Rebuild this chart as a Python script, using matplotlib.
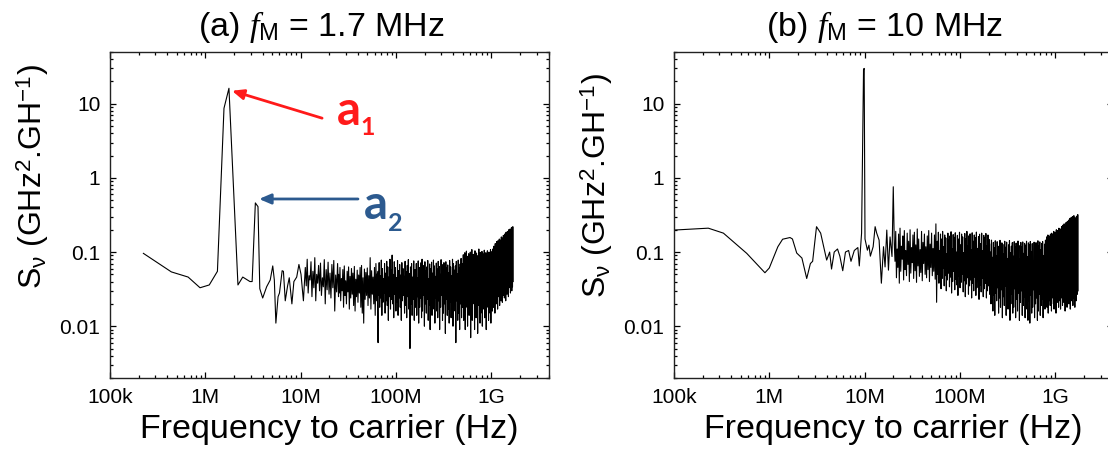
import matplotlib
matplotlib.use("Agg")
import matplotlib.pyplot as plt
from matplotlib.ticker import FixedLocator, FixedFormatter, LogLocator, NullFormatter
import numpy as np

plt.rcParams['font.family'] = ['Liberation Sans', 'DejaVu Sans']
plt.rcParams['mathtext.fontset'] = 'custom'
plt.rcParams['mathtext.rm'] = 'Liberation Sans'
plt.rcParams['mathtext.it'] = 'Liberation Serif:italic'
plt.rcParams['mathtext.bf'] = 'Liberation Sans:bold'

# ---- panel (a): f_M = 1.7 MHz, resolved low-frequency part (Hz, GHz^2/GHz)
fa_low = [2.24e5, 4.4e5, 6.6e5, 8.8e5, 1.1e6, 1.34e6, 1.57e6, 1.77e6, 2.2e6, 2.47e6,
          2.94e6, 3.1e6, 3.35e6, 3.57e6, 3.73e6, 4.0e6, 4.4e6, 4.8e6, 5.1e6, 5.3e6,
          5.5e6, 5.8e6, 6.0e6, 6.4e6, 6.6e6, 6.9e6, 7.3e6, 7.6e6, 8.1e6, 8.5e6,
          9.1e6, 9.6e6, 1.01e7, 1.07e7]
sa_low = [0.096, 0.054, 0.046, 0.033, 0.036, 0.055, 8.7, 16.2, 0.036, 0.046,
          0.040, 0.040, 0.46, 0.41, 0.032, 0.024, 0.034, 0.042, 0.065, 0.042,
          0.011, 0.025, 0.028, 0.056, 0.055, 0.022, 0.035, 0.045, 0.020, 0.040,
          0.046, 0.068, 0.05, 0.022]

# dense noise part: (f start, f end, peaks x1e-3, troughs x1e-3)
a_seg1 = (1.12e7, 2.5e7,
          [62, 80, 48, 74, 55, 84, 50, 66, 71, 45, 79, 58, 73, 52, 68, 77, 49, 70],
          [35, 28, 42, 25, 33, 22, 38, 30, 26, 34, 20, 31, 27, 24, 33, 16, 29, 25])
a_seg2 = (2.5e7, 6.5e7,
          [50, 62, 44, 58, 65, 41, 55, 63, 47, 60, 52, 64, 43, 57, 49, 62, 66, 45, 59, 53,
           61, 48, 84, 56, 46, 62, 70, 51],
          [28, 22, 30, 18, 26, 20, 29, 17, 24, 27, 19, 16, 25, 21, 28, 18, 15, 11, 23, 26,
           19, 24, 17, 27, 20, 14, 22, 6])
a_seg3 = (6.5e7, 1.6e8,
          [55, 72, 48, 78, 60, 44, 70, 52, 75, 63, 46, 80, 58, 91, 50, 74, 62, 45, 77, 56,
           68, 49, 72, 60, 47, 75, 54, 66, 79, 51, 63, 70, 46, 76, 58],
          [26, 18, 24, 14, 21, 28, 15, 22, 19, 12, 25, 17, 23, 20, 13, 27, 16, 21, 14, 24,
           18, 12, 22, 26, 15, 19, 13, 25, 17, 5, 20, 14, 23, 12, 18])
a_seg4 = (1.6e8, 5e8,
          [58, 70, 45, 76, 62, 50, 72, 80, 48, 66, 74, 55, 63, 77, 44, 69, 60, 73, 52, 78,
           65, 47, 71, 59, 75, 64, 50, 79, 68, 56, 72, 46, 74, 61, 67, 53, 77, 63, 48, 80,
           70, 57, 65, 75, 51, 78, 62, 69, 82, 58],
          [22, 14, 25, 11, 18, 24, 13, 16, 26, 10, 20, 15, 23, 12, 19, 9, 25, 14, 17, 21,
           11, 24, 16, 13, 22, 9, 18, 26, 12, 15, 20, 8, 23, 14, 17, 11, 21, 13, 24, 10,
           16, 19, 6, 22, 12, 15, 9, 20, 13, 18])
a_seg5 = (5e8, 1.05e9,
          [70, 92, 60, 98, 76, 103, 64, 88, 95, 58, 100, 80, 108, 67, 93, 84, 104, 62, 97, 75,
           90, 110, 69, 99, 82, 102, 72, 94, 106, 65, 98, 86, 104, 77, 100, 91, 108, 74, 102, 110],
          [24, 12, 27, 9, 18, 22, 10, 26, 14, 16, 7, 23, 12, 20, 28, 9, 17, 13, 25, 8,
           19, 22, 11, 15, 26, 10, 21, 17, 13, 24, 9, 18, 27, 12, 20, 15, 11, 25, 16, 21])
a_seg6 = (1.05e9, 1.7e9,
          [85, 120, 98, 130, 105, 138, 92, 142, 118, 150, 110, 145, 160, 125, 155, 168, 132,
           175, 150, 185, 140, 190, 165, 200, 172, 205, 180, 215, 195, 220],
          [18, 24, 15, 28, 20, 32, 17, 25, 30, 19, 27, 22, 33, 21, 26, 30, 24, 35, 22, 31,
           27, 36, 25, 33, 38, 28, 36, 30, 34, 40])

# ---- panel (b): f_M = 10 MHz
fb_low = [1.0e5, 2.29e5, 3.3e5, 5.8e5, 9.0e5, 1.0e6, 1.23e6, 1.38e6, 1.65e6, 1.75e6,
          1.94e6, 2.2e6, 2.47e6, 2.7e6, 2.85e6, 3.13e6, 3.46e6, 3.8e6, 4.0e6, 4.3e6,
          4.5e6, 4.8e6, 5.2e6, 5.5e6, 5.9e6, 6.3e6, 6.8e6, 7.2e6, 7.8e6, 8.5e6,
          8.8e6, 9.3e6, 9.75e6, 9.9e6, 1.01e7, 1.07e7, 1.11e7, 1.15e7, 1.23e7, 1.29e7,
          1.34e7, 1.42e7, 1.50e7, 1.58e7, 1.64e7, 1.71e7, 1.78e7, 1.85e7, 1.94e7, 2.0e7]
sb_low = [0.198, 0.21, 0.18, 0.096, 0.0526, 0.061, 0.118, 0.149, 0.157, 0.15,
          0.097, 0.083, 0.044, 0.07, 0.075, 0.22, 0.18, 0.105, 0.078, 0.1,
          0.059, 0.1, 0.11, 0.088, 0.056, 0.1, 0.105, 0.075, 0.105, 0.115,
          0.065, 0.18, 29, 30, 0.15, 0.106, 0.124, 0.088, 0.118, 0.22,
          0.18, 0.145, 0.038, 0.118, 0.063, 0.198, 0.057, 0.16, 0.087, 0.76]

b_seg1 = (2.05e7, 5.7e7,
          [130, 190, 110, 175, 210, 120, 165, 195, 105, 180, 140, 200, 115, 170, 185, 125, 205,
           150, 108, 190, 135, 175, 118, 165, 195, 128, 180, 112, 170, 240],
          [75, 45, 62, 38, 55, 80, 42, 58, 48, 68, 40, 52, 72, 44, 56, 39, 65, 47, 53, 41,
           70, 50, 45, 58, 40, 62, 48, 55, 43, 21])
b_seg2 = (5.8e7, 2.05e8,
          [140, 185, 105, 175, 150, 190, 118, 170, 155, 95, 180, 145, 165, 188, 110, 172, 158,
           182, 100, 168, 150, 185, 125, 175, 160, 98, 178, 152, 190, 120, 166, 176, 108, 182,
           140, 170, 156, 186, 112, 162, 174, 130, 180, 104, 168, 155, 178, 122, 170, 148],
          [50, 38, 55, 32, 44, 60, 35, 48, 30, 42, 52, 34, 46, 28, 40, 55, 31, 43, 36, 26,
           47, 33, 39, 50, 29, 41, 25, 37, 45, 27, 35, 42, 24, 38, 30, 46, 26, 33, 40, 23,
           36, 29, 44, 25, 32, 38, 24, 30, 35, 27])
b_seg3 = (2.05e8, 8e8,
          [130, 100, 145, 85, 135, 115, 142, 90, 138, 120, 78, 144, 105, 133, 127, 95, 140,
           116, 136, 82, 125, 143, 98, 120, 134, 88, 138, 117, 132, 104, 141, 123, 80, 135,
           119, 137, 96, 131, 124, 140, 86, 133, 127, 139, 102, 130, 76, 136, 122, 134, 92,
           142, 120, 137, 108, 131, 139, 90, 128, 145],
          [30, 20, 34, 16, 26, 14, 28, 22, 33, 15, 24, 18, 31, 13, 25, 19, 35, 14, 22, 17,
           29, 12, 20, 27, 15, 18, 32, 13, 23, 16, 28, 12, 21, 30, 14, 19, 25, 13, 17, 29,
           12, 22, 11, 26, 15, 18, 31, 13, 20, 24, 12, 16, 27, 14, 19, 23, 13, 28, 17, 21])
b_seg4 = (8e8, 1.74e9,
          [110, 160, 95, 170, 130, 165, 105, 175, 140, 180, 115, 172, 190, 125, 185, 150, 200,
           120, 195, 160, 210, 135, 205, 170, 220, 150, 230, 185, 240, 160, 225, 250, 175, 260,
           200, 270, 180, 285, 230, 295, 200, 300, 250, 310, 220, 290, 240, 305, 260, 320],
          [30, 18, 26, 15, 22, 34, 19, 27, 16, 24, 32, 20, 17, 28, 23, 15, 31, 21, 26, 18,
           35, 22, 17, 29, 24, 19, 33, 21, 27, 16, 30, 23, 18, 34, 25, 20, 28, 17, 31, 22,
           26, 19, 33, 24, 18, 29, 22, 35, 27, 30])

x_ticks = [1e5, 1e6, 1e7, 1e8, 1e9]
x_labels = ['100k', '1M', '10M', '100M', '1G']
y_ticks = [0.01, 0.1, 1, 10]
y_labels = ['0.01', '0.1', '1', '10']


def build_trace(f_low, s_low, segments):
    f = list(f_low)
    s = list(s_low)
    for f0, f1, hi, lo in segments:
        n = len(hi)
        ys = np.empty(2 * n)
        ys[0::2] = np.array(hi) * 1e-3
        ys[1::2] = np.array(lo) * 1e-3
        f.extend(np.geomspace(f0, f1, 2 * n))
        s.extend(ys)
    return np.array(f), np.array(s)


def style_axes(ax, ylabel_y):
    ax.set_xscale('log')
    ax.set_yscale('log')
    ax.set_xlim(1e5, 4e9)
    ax.set_ylim(0.002, 50)
    ax.xaxis.set_major_locator(FixedLocator(x_ticks))
    ax.xaxis.set_major_formatter(FixedFormatter(x_labels))
    ax.yaxis.set_major_locator(FixedLocator(y_ticks))
    ax.yaxis.set_major_formatter(FixedFormatter(y_labels))
    ax.xaxis.set_minor_locator(LogLocator(base=10, subs=np.arange(2, 10), numticks=30))
    ax.yaxis.set_minor_locator(LogLocator(base=10, subs=np.arange(2, 10), numticks=30))
    ax.xaxis.set_minor_formatter(NullFormatter())
    ax.yaxis.set_minor_formatter(NullFormatter())
    ax.tick_params(which='both', direction='in', top=True, right=True, width=0.9,
                   labelsize=15, pad=7)
    ax.tick_params(which='major', length=4.3)
    ax.tick_params(which='minor', length=2.2)
    for sp in ax.spines.values():
        sp.set_linewidth(1.0)
        sp.set_color('#222222')
    ax.set_xlabel('Frequency to carrier (Hz)', fontsize=24.5, labelpad=5)
    ax.set_ylabel(r'S$_{\mathrm{\nu}}$ (GHz$^{2}$.GH$^{-1}$)', fontsize=23)
    ax.yaxis.set_label_coords(-0.135, ylabel_y)


fig = plt.figure(figsize=(11.08, 4.54), dpi=100)
ax1 = fig.add_axes([0.0993, 0.1674, 0.3958, 0.7181])
ax2 = fig.add_axes([0.6083, 0.1674, 0.3958, 0.7181])

fa, sa = build_trace(fa_low, sa_low, [a_seg1, a_seg2, a_seg3, a_seg4, a_seg5, a_seg6])
fb, sb = build_trace(fb_low, sb_low, [b_seg1, b_seg2, b_seg3, b_seg4])

ax1.plot(fa, sa, color='black', lw=0.8)
ax2.plot(fb, sb, color='black', lw=0.8)
style_axes(ax1, 0.617)
style_axes(ax2, 0.589)

fig.text(321.5 / 1108, 1 - 36 / 454, r'(a) $f_{\mathrm{M}}$ = 1.7 MHz', fontsize=24.5,
         ha='center', va='baseline')
fig.text(884.5 / 1108, 1 - 36 / 454, r'(b) $f_{\mathrm{M}}$ = 10 MHz', fontsize=24.5,
         ha='center', va='baseline')

red = '#ff1a1a'
blue = '#2c5a8f'
ax1.annotate('', xy=(1.9e6, 15), xytext=(1.68e7, 6.4),
             arrowprops=dict(arrowstyle='-|>,head_length=0.7,head_width=0.3',
                             color=red, lw=2.0, mutation_scale=10, shrinkA=0, shrinkB=0))
ax1.annotate('', xy=(3.66e6, 0.52), xytext=(4.0e7, 0.52),
             arrowprops=dict(arrowstyle='-|>,head_length=0.7,head_width=0.3',
                             color=blue, lw=2.0, mutation_scale=10, shrinkA=0, shrinkB=0))
ax1.text(0.5165, 0.777, 'a', transform=ax1.transAxes, fontsize=34, fontweight='bold',
         family='Lato', color=red, va='baseline')
ax1.text(0.572, 0.7463, '1', transform=ax1.transAxes, fontsize=18, fontweight='bold',
         family='Lato', color=red, va='baseline')
ax1.text(0.579, 0.4877, 'a', transform=ax1.transAxes, fontsize=34, fontweight='bold',
         family='Lato', color=blue, va='baseline')
ax1.text(0.634, 0.4509, '2', transform=ax1.transAxes, fontsize=18, fontweight='bold',
         family='Lato', color=blue, va='baseline')

fig.savefig('out.png', dpi=100)
